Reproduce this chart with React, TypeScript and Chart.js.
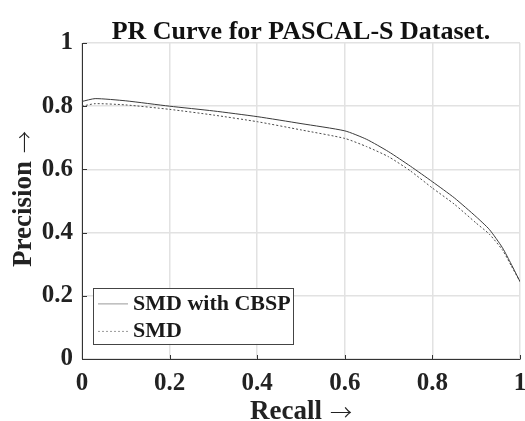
import React, { useEffect, useRef } from "react";
import { Chart, registerables } from "chart.js";

Chart.register(...registerables);

const recall = [0, 0.03, 0.1, 0.2, 0.3, 0.4, 0.5, 0.6, 0.65, 0.7, 0.75, 0.8, 0.85, 0.9, 0.93, 0.96, 0.98, 1.0];
const precisionCBSP = [0.815, 0.824, 0.817, 0.8, 0.785, 0.767, 0.745, 0.722, 0.695, 0.656, 0.61, 0.561, 0.51, 0.45, 0.41, 0.352, 0.3, 0.245];
const precisionSMD = [0.8, 0.808, 0.804, 0.79, 0.772, 0.751, 0.725, 0.698, 0.672, 0.64, 0.595, 0.541, 0.49, 0.43, 0.395, 0.345, 0.295, 0.245];
const seriesLabels = ["SMD with CBSP", "SMD"];
const xTicks = [0, 0.2, 0.4, 0.6, 0.8, 1];
const yTicks = [0, 0.2, 0.4, 0.6, 0.8, 1];
const titleText = "PR Curve for PASCAL-S Dataset.";
const xTitleWord = "Recall";
const yTitleWord = "Precision";
const arrow = "\u2192";

const FONT = "'Liberation Serif', 'Times New Roman', serif";
const ARROW_FONT = "300 22px 'Noto Sans CJK SC', 'DejaVu Sans', sans-serif";
const LABEL_FONT = `bold 27px ${FONT}`;
const fmt = (v: number) => (v === 0 ? "0" : v === 1 ? "1" : v.toFixed(1));

function drawAxisTitle(ctx: any, word: string, cx: number, baseline: number, rotate: boolean) {
  ctx.save();
  ctx.font = LABEL_FONT;
  const w1 = ctx.measureText(word).width;
  const gap = 8;
  ctx.font = ARROW_FONT;
  const w2 = ctx.measureText(arrow).width;
  const total = w1 + gap + w2;
  if (rotate) {
    ctx.translate(baseline, cx);
    ctx.rotate(-Math.PI / 2);
  } else {
    ctx.translate(cx, baseline);
  }
  ctx.fillStyle = "#222";
  ctx.textAlign = "left";
  ctx.textBaseline = "alphabetic";
  ctx.font = LABEL_FONT;
  ctx.fillText(word, -total / 2, 0);
  ctx.font = ARROW_FONT;
  ctx.fillText(arrow, -total / 2 + w1 + gap, 1);
  ctx.restore();
}

const extrasPlugin = {
  id: "extras",
  afterDraw(chart: any) {
    const { ctx, chartArea, scales } = chart;
    const xs = scales.x;
    const ys = scales.y;
    ctx.save();
    // title
    ctx.font = `bold 26px ${FONT}`;
    ctx.fillStyle = "#111";
    ctx.textAlign = "center";
    ctx.textBaseline = "alphabetic";
    ctx.fillText(titleText, (chartArea.left + chartArea.right) / 2, 38.5);
    // axis titles
    drawAxisTitle(ctx, xTitleWord, (chartArea.left + chartArea.right) / 2, 419, false);
    drawAxisTitle(ctx, yTitleWord, (chartArea.top + chartArea.bottom) / 2 - 2, 31, true);
    // inward ticks
    ctx.strokeStyle = "#333";
    ctx.lineWidth = 1;
    xTicks.forEach((v) => {
      const px = Math.round(xs.getPixelForValue(v)) + 0.5;
      ctx.beginPath();
      ctx.moveTo(px, chartArea.bottom);
      ctx.lineTo(px, chartArea.bottom - 4);
      ctx.stroke();
    });
    yTicks.forEach((v) => {
      const py = Math.round(ys.getPixelForValue(v)) + 0.5;
      ctx.beginPath();
      ctx.moveTo(chartArea.left, py);
      ctx.lineTo(chartArea.left + 5, py);
      ctx.stroke();
    });
    // legend box
    const bx = chartArea.left + 11;
    const by = ys.getPixelForValue(0.225);
    const bw = 200;
    const bh = 56;
    ctx.fillStyle = "#fff";
    ctx.fillRect(bx, by, bw, bh);
    ctx.strokeStyle = "#444";
    ctx.lineWidth = 1;
    ctx.strokeRect(Math.round(bx) + 0.5, Math.round(by) + 0.5, bw, bh);
    ctx.font = `bold 22px ${FONT}`;
    ctx.textBaseline = "middle";
    ctx.textAlign = "left";
    chart.data.datasets.forEach((ds: any, i: number) => {
      const ly = by + 16 + i * 27.5;
      ctx.strokeStyle = "#999";
      ctx.lineWidth = 1;
      ctx.setLineDash(ds.borderDash || []);
      ctx.beginPath();
      ctx.moveTo(bx + 5, ly);
      ctx.lineTo(bx + 35, ly);
      ctx.stroke();
      ctx.setLineDash([]);
      ctx.fillStyle = "#1a1a1a";
      ctx.fillText(ds.label, bx + 40, ly);
    });
    ctx.restore();
  },
};

export default function App() {
  const ref = useRef<HTMLCanvasElement | null>(null);
  useEffect(() => {
    document.body.style.margin = "0";
    if (!ref.current) return;
    const chart = new Chart(ref.current, {
      type: "line",
      data: {
        datasets: [
          {
            label: seriesLabels[0],
            data: recall.map((r, i) => ({ x: r, y: precisionCBSP[i] })),
            borderColor: "#3a3a3a",
            borderWidth: 1,
            pointRadius: 0,
            tension: 0.2,
            fill: false,
          },
          {
            label: seriesLabels[1],
            data: recall.map((r, i) => ({ x: r, y: precisionSMD[i] })),
            borderColor: "#4a4a4a",
            borderWidth: 1,
            borderDash: [2, 2],
            pointRadius: 0,
            tension: 0.2,
            fill: false,
          },
        ],
      },
      options: {
        animation: false,
        responsive: false,
        events: [],
        layout: { padding: { top: 43, right: 5, bottom: 0, left: 0 } },
        plugins: {
          legend: { display: false },
          tooltip: { enabled: false },
          title: { display: false },
        },
        scales: {
          x: {
            type: "linear",
            min: 0,
            max: 1,
            afterBuildTicks: (s: any) => {
              s.ticks = xTicks.map((v) => ({ value: v }));
            },
            afterFit: (s: any) => {
              s.height = 62;
              s.paddingLeft = 0;
              s.paddingRight = 0;
            },
            ticks: {
              color: "#222",
              font: { family: FONT, size: 25, weight: "bold", lineHeight: 1.2 },
              padding: 9.5,
              maxRotation: 0,
              callback: (v: any) => fmt(Number(v)),
            },
            grid: { color: "#e2e2e2", lineWidth: 1.5, drawTicks: false },
            border: { display: true, color: "#333", width: 1 },
            title: { display: false },
          },
          y: {
            type: "linear",
            min: 0,
            max: 1,
            afterBuildTicks: (s: any) => {
              s.ticks = yTicks.map((v) => ({ value: v }));
            },
            afterFit: (s: any) => {
              s.width = 82;
            },
            ticks: {
              color: "#222",
              font: { family: FONT, size: 25, weight: "bold" },
              padding: 9,
              callback: (v: any) => fmt(Number(v)),
            },
            grid: { color: "#e2e2e2", lineWidth: 1.5, drawTicks: false },
            border: { display: true, color: "#333", width: 1 },
            title: { display: false },
          },
        },
      },
      plugins: [extrasPlugin],
    } as any);
    return () => chart.destroy();
  }, []);
  return (
    <div style={{ position: "absolute", left: 0, top: 0, width: 525, height: 421, background: "#fff" }}>
      <canvas ref={ref} width={525} height={421} style={{ display: "block", width: 525, height: 421 }} />
    </div>
  );
}
